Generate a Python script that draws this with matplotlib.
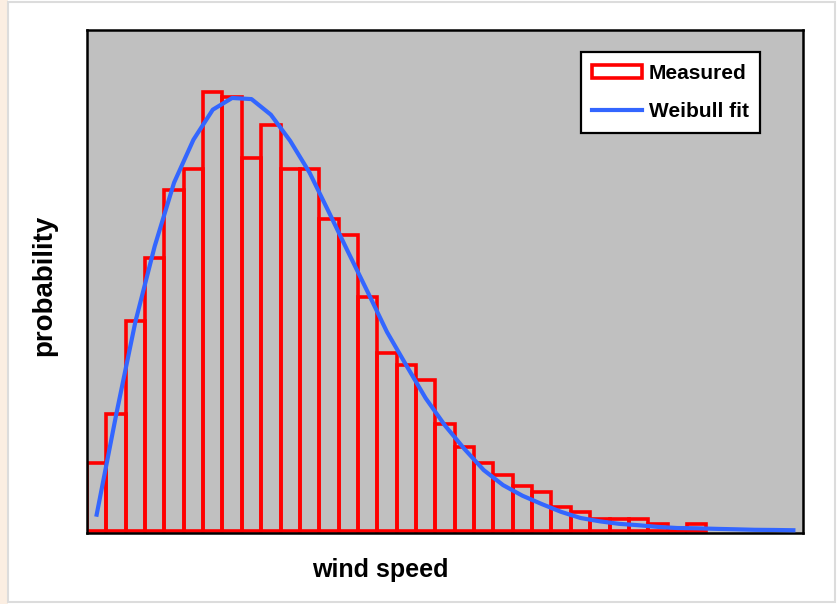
import numpy as np
import matplotlib.pyplot as plt
from matplotlib.patches import Rectangle, Patch
from matplotlib.lines import Line2D

plt.rcParams['font.family'] = ['Liberation Sans', 'DejaVu Sans']

# Histograma medido (probabilidad en %, una barra por clase de velocidad)
clases = np.arange(32)
medido = [1.22, 2.09, 3.77, 4.90, 6.11, 6.49, 7.88, 7.79, 6.70, 7.29,
          6.50, 6.50, 5.59, 5.31, 4.20, 3.20, 2.98, 2.70, 1.91, 1.50,
          1.21, 1.00, 0.80, 0.70, 0.43, 0.34, 0.21, 0.21, 0.21, 0.13,
          0.00, 0.13]

centros = np.arange(37) + 0.5
weibull = [0.29, 2.07, 3.75, 5.11, 6.25, 7.02, 7.56, 7.77, 7.75, 7.47,
           7.00, 6.43, 5.72, 5.00, 4.29, 3.57, 2.97, 2.38, 1.89, 1.47,
           1.09, 0.82, 0.63, 0.48, 0.34, 0.23, 0.17, 0.125, 0.10, 0.07,
           0.05, 0.045, 0.035, 0.027, 0.018, 0.015, 0.01]

fig = plt.figure(figsize=(8.38, 6.04), dpi=100)
fig.patch.set_facecolor('white')

# marco claro de la diapositiva
fig.add_artist(Rectangle((0, 0), 0.009, 1, transform=fig.transFigure,
                         facecolor='#fbeee2', edgecolor='none'))
fig.add_artist(Rectangle((0.009, 0.004), 0.988, 0.992, transform=fig.transFigure,
                         facecolor='none', edgecolor='#dcdcdc', lw=1.5))

ax = fig.add_axes([0.1038, 0.1175, 0.8545, 0.8328])
ax.set_facecolor('#c0c0c0')

ax.bar(clases, medido, width=1.0, align='edge', facecolor='none',
       edgecolor='#ff0000', linewidth=2.6, zorder=2)
ax.plot(centros, weibull, color='#3366ff', linewidth=3.0, zorder=3)

ax.set_xlim(0, 37)
ax.set_ylim(-0.04, 8.99)
ax.set_xticks([])
ax.set_yticks([])
for s in ax.spines.values():
    s.set_linewidth(1.8)
    s.set_color('black')

ax.set_xlabel('wind speed', fontsize=18, fontweight='bold')
ax.xaxis.set_label_coords(0.41, -0.05)
ax.set_ylabel('probability', fontsize=20, fontweight='bold')
ax.yaxis.set_label_coords(-0.042, 0.493)

handles = [Patch(facecolor='white', edgecolor='#ff0000', linewidth=2.6),
           Line2D([], [], color='#3366ff', linewidth=3.0)]
leg = ax.legend(handles, ['Measured', 'Weibull fit'], loc='upper right',
                bbox_to_anchor=(0.94, 0.956), borderaxespad=0, fancybox=False,
                framealpha=1, edgecolor='black', handlelength=2.4,
                handleheight=0.6, handletextpad=0.3, borderpad=0.55,
                labelspacing=0.95, prop={'weight': 'bold', 'size': 15})
leg.get_frame().set_linewidth(1.6)

fig.savefig('out.png', dpi=100)
